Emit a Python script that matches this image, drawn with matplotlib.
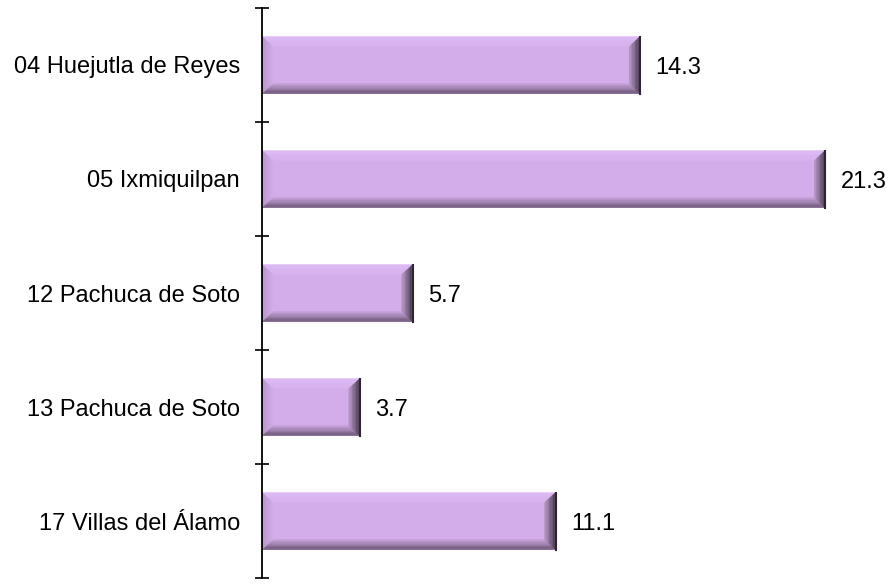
import numpy as np
import matplotlib
matplotlib.use("Agg")
import matplotlib.pyplot as plt
from matplotlib.patches import Polygon
from matplotlib.colors import to_rgb

plt.rcParams['font.family'] = ['Liberation Sans', 'DejaVu Sans']

# data
categories = ["04 Huejutla de Reyes", "05 Ixmiquilpan", "12 Pachuca de Soto",
              "13 Pachuca de Soto", "17 Villas del Álamo"]
values = [14.3, 21.3, 5.7, 3.7, 11.1]
labels = ["14.3", "21.3", "5.7", "3.7", "11.1"]

W, H = 894, 584
fig = plt.figure(figsize=(W / 100, H / 100), dpi=100)
ax = fig.add_axes([262 / W, 6 / H, 632 / W, 570 / H])

y = np.arange(len(categories))
bars = ax.barh(y, values, height=0.5, color="#D3ADE9", edgecolor="none", zorder=2)
ax.set_xlim(0, 23.9)
ax.set_ylim(len(categories) - 0.5, -0.5)

# bevel effect, size given in pixels then converted to data units
px_x = 632 / 23.9
px_y = 570 / len(categories)
bx = 11 / px_x
by = 10 / px_y
nb = 8


def mix(c1, c2, t):
    a, b = np.array(to_rgb(c1)), np.array(to_rgb(c2))
    return tuple(a + (b - a) * t)


sides = {
    "top": ("#DEBCF7", "#D6B2EC"),
    "bottom": ("#6A5574", "#C7A3DB"),
    "left": ("#B594C6", "#D2ADE6"),
    "right": ("#3F3146", "#B999CA"),
}

for b in bars:
    x0, y0 = b.get_x(), b.get_y()
    x1, y1 = x0 + b.get_width(), y0 + b.get_height()
    for k in range(nb):
        t0, t1 = k / nb, (k + 1) / nb
        ax0, ax1 = x0 + bx * t0, x0 + bx * t1
        rx0, rx1 = x1 - bx * t0, x1 - bx * t1
        ty0, ty1 = y0 + by * t0, y0 + by * t1
        uy0, uy1 = y1 - by * t0, y1 - by * t1
        polys = {
            "top": [(ax0, ty0), (rx0, ty0), (rx1, ty1), (ax1, ty1)],
            "bottom": [(ax0, uy0), (rx0, uy0), (rx1, uy1), (ax1, uy1)],
            "left": [(ax0, ty0), (ax1, ty1), (ax1, uy1), (ax0, uy0)],
            "right": [(rx0, ty0), (rx1, ty1), (rx1, uy1), (rx0, uy0)],
        }
        for side, pts in polys.items():
            c = mix(sides[side][0], sides[side][1], (k + 0.5) / nb)
            ax.add_patch(Polygon(pts, closed=True, facecolor=c, edgecolor=c,
                                 lw=0.3, zorder=3))
    ax.plot([x1, x1], [y0, y1], color="#2E2433", lw=1.5, zorder=4)

for v, lab, yy in zip(values, labels, y):
    ax.annotate(lab, (v, yy), xytext=(11, 0), textcoords="offset points",
                va="center_baseline", ha="left", fontsize=17)

ax.set_yticks(np.arange(-0.5, len(categories), 1.0))
ax.set_yticklabels([])
ax.set_yticks(y, minor=True)
ax.set_yticklabels(categories, minor=True, fontsize=17)
ax.tick_params(axis="y", which="major", direction="inout", length=10, width=1.2)
ax.tick_params(axis="y", which="minor", length=0, pad=16)
ax.set_xticks([])
for s in ["top", "right", "bottom"]:
    ax.spines[s].set_visible(False)
ax.spines["left"].set_linewidth(1.3)
ax.spines["left"].set_zorder(5)

fig.savefig("out.png", dpi=100)
